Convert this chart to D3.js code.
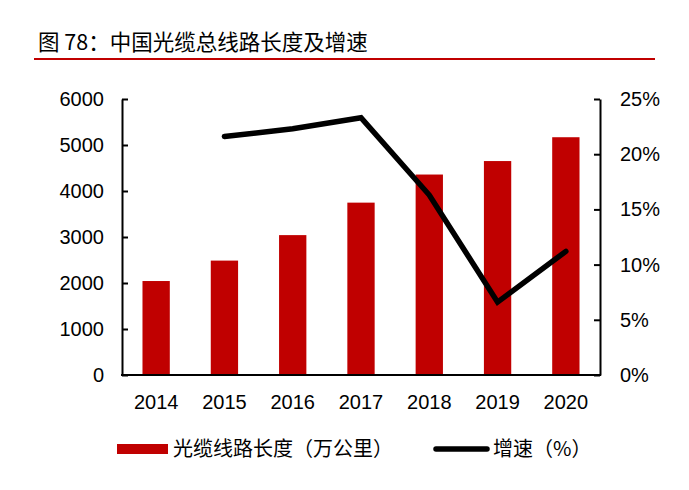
<!DOCTYPE html>
<html>
<head>
<meta charset="utf-8">
<script src="https://cdn.jsdelivr.net/npm/d3@7"></script>
<style>
  body { margin: 0; background: #fff; }
  svg text { font-family: 'Liberation Sans', Arial, 'Noto Sans CJK SC', sans-serif; fill: #000; }
  .cjk { font-family: 'Noto Sans CJK SC', sans-serif; }
</style>
</head>
<body>
<div id="chart"></div>
<script>
// data
var years = ['2014', '2015', '2016', '2017', '2018', '2019', '2020']
var cableLength = [2043, 2487, 3041, 3747, 4358, 4651, 5169]
var growthYears = ['2015', '2016', '2017', '2018', '2019', '2020']
var growthRate = [21.6, 22.3, 23.3, 16.3, 6.6, 11.2]
var leftTicks = [0, 1000, 2000, 3000, 4000, 5000, 6000]
var rightTicks = [0, 5, 10, 15, 20, 25]

var width = 689
var height = 490
var margin = { top: 99, bottom: 115, left: 122, right: 89 }

var svg = d3
  .select('#chart')
  .append('svg')
  .attr('width', width)
  .attr('height', height)

// title
svg
  .append('text')
  .attr('class', 'cjk')
  .attr('x', 38)
  .attr('y', 50)
  .style('font-size', '21.5px')
  .text('图 78：中国光缆总线路长度及增速')

svg
  .append('line')
  .attr('x1', 34)
  .attr('x2', 655)
  .attr('y1', 59)
  .attr('y2', 59)
  .style('stroke', '#C00000')
  .style('stroke-width', 2)

var g = svg
  .append('g')
  .attr('transform', 'translate(' + margin.left + ',' + margin.top + ')')

var innerW = width - margin.left - margin.right
var innerH = height - margin.top - margin.bottom

// scales
var x = d3
  .scaleBand()
  .domain(years)
  .range([0, innerW])
  .paddingInner(0.6)
  .paddingOuter(0.3)

var yLeft = d3.scaleLinear().domain([0, 6000]).range([innerH, 0])
var yRight = d3.scaleLinear().domain([0, 25]).range([innerH, 0])

// bars
g.selectAll('rect.bar')
  .data(years)
  .enter()
  .append('rect')
  .attr('class', 'bar')
  .attr('x', d => x(d))
  .attr('y', (d, i) => yLeft(cableLength[i]))
  .attr('width', x.bandwidth())
  .attr('height', (d, i) => innerH - yLeft(cableLength[i]))
  .style('fill', '#C00000')

// growth line
var line = d3
  .line()
  .x((d, i) => x(growthYears[i]) + x.bandwidth() / 2)
  .y(d => yRight(d))

g.append('path')
  .datum(growthRate)
  .attr('d', line)
  .style('fill', 'none')
  .style('stroke', '#000')
  .style('stroke-width', 5.5)
  .style('stroke-linecap', 'round')
  .style('stroke-linejoin', 'miter')

// axes
var leftAxis = d3
  .axisLeft(yLeft)
  .tickValues(leftTicks)
  .tickSizeInner(-6)
  .tickSizeOuter(0)
  .tickPadding(20)
  .tickFormat(d3.format('d'))

var rightAxis = d3
  .axisRight(yRight)
  .tickValues(rightTicks)
  .tickSizeInner(-6)
  .tickSizeOuter(0)
  .tickPadding(20)
  .tickFormat(d => d + '%')

var bottomAxis = d3.axisBottom(x).tickSize(0).tickPadding(20)

var gl = g.append('g').call(leftAxis)
var gr = g.append('g').attr('transform', 'translate(' + innerW + ',0)').call(rightAxis)
var gb = g.append('g').attr('transform', 'translate(0,' + innerH + ')').call(bottomAxis)

;[gl, gr, gb].forEach(a => {
  a.selectAll('path, line').style('stroke', '#000').style('stroke-width', 2)
  a.selectAll('text')
    .style('font-size', '20px')
    .style('font-family', "'Liberation Sans', Arial, sans-serif")
    .style('fill', '#000')
})
gl.selectAll('text').attr('dx', 2)
gb.select('.domain').attr('d', 'M-1,0H' + (innerW + 1))

// legend
var legend = svg.append('g')

legend
  .append('rect')
  .attr('x', 117)
  .attr('y', 444)
  .attr('width', 51)
  .attr('height', 10)
  .style('fill', '#C00000')

legend
  .append('text')
  .attr('class', 'cjk')
  .attr('x', 173)
  .attr('y', 456)
  .style('font-size', '20px')
  .text('光缆线路长度（万公里）')

legend
  .append('line')
  .attr('x1', 436)
  .attr('x2', 487)
  .attr('y1', 449)
  .attr('y2', 449)
  .style('stroke', '#000')
  .style('stroke-width', 5.5)
  .style('stroke-linecap', 'round')

legend
  .append('text')
  .attr('class', 'cjk')
  .attr('x', 493)
  .attr('y', 456)
  .style('font-size', '20px')
  .text('增速（%）')
</script>
</body>
</html>
